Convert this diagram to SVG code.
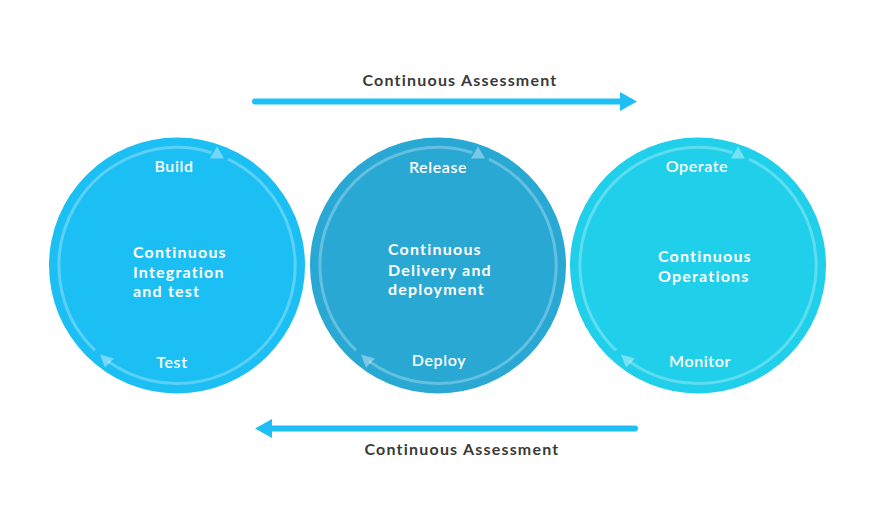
<svg xmlns="http://www.w3.org/2000/svg" xmlns:xlink="http://www.w3.org/1999/xlink" width="875" height="529" viewBox="0 0 875 529">
<style>
  .lblc { font-family: Lato, "Open Sans", "Liberation Sans", sans-serif; font-size: 16px; font-weight: 600; letter-spacing: 0.6px; fill: #ffffff; text-anchor: middle; }
  .ctr { font-family: Lato, "Open Sans", "Liberation Sans", sans-serif; font-size: 16px; font-weight: 700; letter-spacing: 1.2px; fill: #ffffff; }
  .ca { font-family: Lato, "Open Sans", "Liberation Sans", sans-serif; font-size: 16px; font-weight: 700; letter-spacing: 1.2px; fill: #3a3a3a; text-anchor: middle; }
  .ring { fill: none; stroke: #ffffff; stroke-opacity: 0.28; stroke-width: 3; }
  .rhead { fill: #ffffff; fill-opacity: 0.38; }
  .flow { stroke: #1dbff5; stroke-width: 6; stroke-linecap: round; fill: none; }
  .flowhead { fill: #1dbff5; }
</style>
<defs>
  <g id="cycle">
    <path class="ring" d="M51,-106.4 A118,118 0 1 1 -69,95.7"/>
    <path class="ring" d="M-82,84.9 A118,118 0 0 1 34.5,-112.8"/>
    <polygon class="rhead" points="40,-119 33,-107 47,-107"/>
    <polygon class="rhead" points="-77,89 -63,93 -72,102"/>
  </g>
</defs>
<rect width="875" height="529" fill="#ffffff"/>

<g id="connectors">
  <line class="flow" x1="255" y1="101.5" x2="622" y2="101.5"/>
  <polygon class="flowhead" points="620,92 637,101.5 620,111"/>
  <line class="flow" x1="270" y1="428.5" x2="635" y2="428.5"/>
  <polygon class="flowhead" points="272,419 255,428.5 272,438"/>
  <text class="ca" x="460" y="86">Continuous Assessment</text>
  <text class="ca" x="462" y="455">Continuous Assessment</text>
</g>

<g id="node-ci">
  <circle cx="177" cy="265.5" r="128" fill="#1cbff4"/>
  <use xlink:href="#cycle" transform="translate(177,265.5)"/>
  <text class="lblc" x="174" y="172">Build</text>
  <text class="ctr" x="133" y="258">Continuous</text>
  <text class="ctr" x="133" y="278">Integration</text>
  <text class="ctr" x="133" y="297">and test</text>
  <text class="lblc" x="172" y="368">Test</text>
</g>

<g id="node-cd">
  <circle cx="438" cy="265.5" r="128" fill="#29a8d4"/>
  <use xlink:href="#cycle" transform="translate(438,265.5)"/>
  <text class="lblc" x="438" y="173">Release</text>
  <text class="ctr" x="388" y="255">Continuous</text>
  <text class="ctr" x="388" y="276">Delivery and</text>
  <text class="ctr" x="388" y="295">deployment</text>
  <text class="lblc" x="439" y="366">Deploy</text>
</g>

<g id="node-co">
  <circle cx="698" cy="265.5" r="128" fill="#20d0ea"/>
  <use xlink:href="#cycle" transform="translate(698,265.5)"/>
  <text class="lblc" x="697" y="172">Operate</text>
  <text class="ctr" x="658" y="262">Continuous</text>
  <text class="ctr" x="658" y="282">Operations</text>
  <text class="lblc" x="700" y="367">Monitor</text>
</g>
</svg>
